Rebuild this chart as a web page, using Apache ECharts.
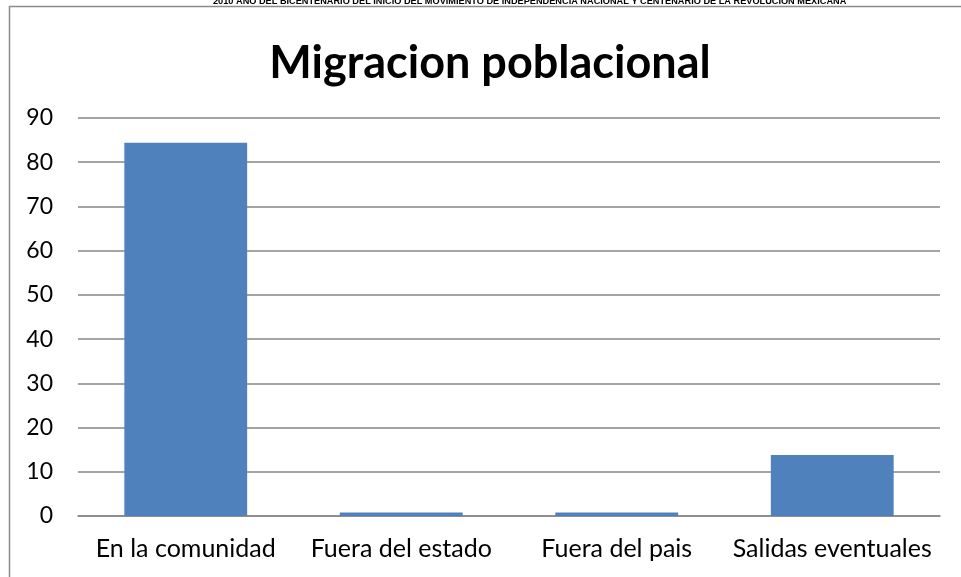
<!DOCTYPE html>
<html>
<head>
<meta charset="utf-8">
<script src="https://cdn.jsdelivr.net/npm/echarts@6/dist/echarts.min.js"></script>
<style>
	html, body { margin: 0; padding: 0; background: #fff; }
	#chart { width: 961px; height: 577px; }
</style>
</head>
<body>
<div id="chart"></div>
<script>
/* datos */
const categories = ['En la comunidad', 'Fuera del estado', 'Fuera del pais', 'Salidas eventuales'];
const values = [84.4, 0.8, 0.8, 13.8];
const yTicks = [0, 10, 20, 30, 40, 50, 60, 70, 80, 90];
const chartTitle = 'Migracion poblacional';
const headerText = '2010 AÑO DEL BICENTENARIO DEL INICIO DEL MOVIMIENTO DE INDEPENDENCIA NACIONAL Y CENTENARIO DE LA REVOLUCION MEXICANA';

const font = 'Lato, "Open Sans", sans-serif';
const chart = echarts.init(document.querySelector('#chart'));
chart.setOption({
	animation: false,
	title: {
		text: chartTitle,
		left: 485,
		top: 36,
		textAlign: 'center',
		textStyle: {
			fontFamily: font,
			fontSize: 45,
			fontWeight: 'bold',
			color: '#000'
		}
	},
	graphic: [
		{
			type: 'rect',
			shape: { x: 9.5, y: 6.5, width: 1000, height: 700 },
			style: { fill: 'none', stroke: '#8c8c8c', lineWidth: 1.5 }
		},
		{
			type: 'text',
			x: 213,
			y: 6,
			style: {
				text: headerText,
				fontFamily: '"Liberation Sans", sans-serif',
				fontSize: 9.2,
				fontWeight: 'bold',
				fill: '#000',
				verticalAlign: 'bottom'
			}
		}
	],
	grid: {
		left: 78,
		right: 21,
		top: 118,
		bottom: 61,
		containLabel: false
	},
	xAxis: {
		type: 'category',
		data: categories,
		axisTick: { show: false },
		axisLine: { lineStyle: { color: '#868686', width: 1.5 } },
		axisLabel: {
			margin: 20,
			fontFamily: font,
			fontSize: 25,
			color: '#000',
			interval: 0
		}
	},
	yAxis: {
		type: 'value',
		min: yTicks[0],
		max: yTicks[yTicks.length - 1],
		interval: 10,
		axisLine: { show: false },
		axisTick: { show: false },
		splitLine: { lineStyle: { color: '#868686', width: 1.5 } },
		axisLabel: {
			margin: 25,
			fontFamily: font,
			fontSize: 23,
			color: '#000'
		}
	},
	series: [{
		type: 'bar',
		data: values,
		barCategoryGap: '43%',
		itemStyle: { color: '#4f81bd' }
	}]
});
</script>
</body>
</html>
